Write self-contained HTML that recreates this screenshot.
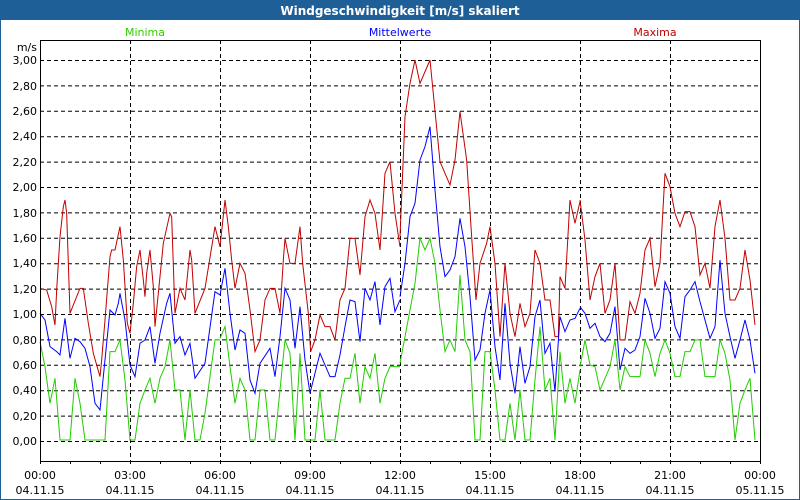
<!DOCTYPE html>
<html><head><meta charset="utf-8"><style>
body{margin:0;background:#fff;}
svg{display:block;font-family:"DejaVu Sans","Liberation Sans",sans-serif;}
</style></head><body>
<svg width="800" height="500" viewBox="0 0 800 500" xmlns="http://www.w3.org/2000/svg">
<rect x="0" y="0" width="800" height="500" fill="#fff"/>
<rect x="0.5" y="0.5" width="799" height="499" fill="none" stroke="#1f5f98"/>
<rect x="0" y="0" width="800" height="20" fill="#1f5f98"/>
<text x="400" y="15" text-anchor="middle" fill="#fff" font-size="12" font-weight="bold">Windgeschwindigkeit [m/s] skaliert</text>
<text x="145" y="36" text-anchor="middle" fill="#33cc00" font-size="11">Minima</text>
<text x="400" y="36" text-anchor="middle" fill="#0000ff" font-size="11">Mittelwerte</text>
<text x="655" y="36" text-anchor="middle" fill="#c00000" font-size="11">Maxima</text>
<text x="37" y="51" text-anchor="end" font-size="11">m/s</text>
<g stroke="#000" stroke-dasharray="4,3" stroke-width="1">
<path d="M40 60.5H760M40 85.9H760M40 111.3H760M40 136.7H760M40 162.1H760M40 187.5H760M40 212.9H760M40 238.3H760M40 263.7H760M40 289.1H760M40 314.5H760M40 339.9H760M40 365.3H760M40 390.7H760M40 416.1H760M40 441.5H760"/>
<path d="M130.5 40V461M220.5 40V461M310.5 40V461M400.5 40V461M490.5 40V461M580.5 40V461M670.5 40V461"/>
</g>
<g font-size="11" text-anchor="end">
<text x="37" y="64">3,00</text><text x="37" y="90">2,80</text><text x="37" y="115">2,60</text><text x="37" y="140">2,40</text><text x="37" y="166">2,20</text><text x="37" y="191">2,00</text><text x="37" y="217">1,80</text><text x="37" y="242">1,60</text><text x="37" y="267">1,40</text><text x="37" y="293">1,20</text><text x="37" y="318">1,00</text><text x="37" y="344">0,80</text><text x="37" y="369">0,60</text><text x="37" y="394">0,40</text><text x="37" y="420">0,20</text><text x="37" y="445">0,00</text>
</g>
<g fill="none" stroke-width="1">
<g stroke="#c00000">
<polyline vector-effect="non-scaling-stroke" transform="translate(40,160) scale(0.3333)" points="0,385 20,390 35,440 45,495 50,390 60,230 70,140 75,120 80,160 90,460 120,385 130,385 145,490 160,580 180,650 185,600 195,480 210,290 215,270 225,270 240,200 250,300 262,490 270,520 280,430 290,320 300,270 310,360 315,410 320,340 330,270 340,380 345,500 350,450 370,250 390,160 395,170 405,460 420,385 435,420 450,270 455,300 465,460 495,385 525,200 540,260"/>
<polyline vector-effect="non-scaling-stroke" transform="translate(220,160) scale(0.3333)" points="0,260 15,120 25,200 35,300 45,385 60,310 75,340 90,450 105,575 120,540 135,420 150,385 165,385 180,460 190,300 195,235 210,310 225,310 240,200 248,310 265,460 272,575 285,540 300,465 315,500 330,500 345,540 360,420 375,385 390,235 405,235 420,345 435,170 450,120 465,160 480,270 495,40 510,5 525,160 540,260"/>
<polyline vector-effect="non-scaling-stroke" transform="translate(400,50) scale(0.3333)" points="0,560 15,200 30,100 45,30 60,100 90,30 120,335 150,405 165,330 180,185 200,330 215,560 228,750 240,640 260,580 270,530 285,640 300,860 315,640 330,790 345,860 360,760 375,830 390,790 405,600 420,640 435,750 450,750 465,860 475,860 480,680 495,715 510,450 525,520 540,455"/>
<polyline vector-effect="non-scaling-stroke" transform="translate(580,160) scale(0.3333)" points="0,120 15,240 30,420 45,350 60,310 75,460 90,420 105,310 120,540 135,540 150,425 165,460 180,400 195,270 210,235 225,380 240,310 255,40 270,80 285,160 300,200 315,155 330,155 345,200 360,345 375,310 390,385 405,200 420,120 435,235 450,420 465,420 480,385 495,270 510,360 525,495"/>
</g>
<g stroke="#0000ff">
<polyline vector-effect="non-scaling-stroke" transform="translate(40,160) scale(0.3333)" points="0,460 15,480 30,560 50,575 60,585 75,475 90,595 105,535 120,545 135,565 150,620 165,730 180,750 195,600 210,450 225,465 235,430 240,400 255,480 270,615 285,650 300,550 315,540 330,500 345,610 360,520 380,430 390,400 405,550 420,530 435,585 450,550 465,655 495,610 525,395 540,405"/>
<polyline vector-effect="non-scaling-stroke" transform="translate(220,160) scale(0.3333)" points="0,405 15,325 30,460 45,570 60,510 75,520 90,660 105,700 120,610 150,565 165,650 180,530 195,385 210,420 225,565 240,440 255,600 270,700 300,580 315,615 330,650 345,650 360,585 375,500 390,420 405,425 420,545 435,385 450,420 465,365 480,495 495,380 510,355 525,455 540,420"/>
<polyline vector-effect="non-scaling-stroke" transform="translate(400,50) scale(0.3333)" points="0,740 15,640 30,500 45,460 60,330 75,290 90,230 105,420 120,590 135,680 150,660 165,620 180,505 195,590 210,740 225,930 240,900 255,790 270,720 285,890 300,990 315,760 330,940 345,1030 360,890 375,1000 390,950 405,800 420,750 435,910 450,880 465,1025 480,800 495,845 510,810 525,805 540,775"/>
<polyline vector-effect="non-scaling-stroke" transform="translate(580,160) scale(0.3333)" points="0,440 15,460 30,505 45,490 60,530 75,545 90,520 105,440 120,630 135,565 150,580 165,570 180,530 195,415 210,460 225,535 240,505 255,365 270,400 285,500 300,535 315,410 330,390 345,365 360,425 375,480 390,535 405,500 420,300 435,460 450,530 465,595 480,540 495,480 510,540 525,640"/>
</g>
<g stroke="#22cc00">
<polyline vector-effect="non-scaling-stroke" transform="translate(40,160) scale(0.3333)" points="0,545 15,620 30,730 45,655 60,840 90,840 105,655 120,730 135,840 195,840 210,575 225,575 240,540 255,660 270,840 285,840 300,730 315,690 330,655 345,730 360,655 375,620 390,540 405,690 420,690 435,840 450,690 465,840 480,840 495,760 525,540 540,540"/>
<polyline vector-effect="non-scaling-stroke" transform="translate(220,160) scale(0.3333)" points="0,535 15,500 30,620 45,730 60,655 75,690 90,840 105,840 120,690 135,690 150,840 165,840 180,690 195,540 210,580 225,840 240,580 255,840 270,840 285,840 300,690 315,840 345,840 360,730 375,655 390,655 405,580 420,730 435,620 450,655 465,580 480,730 495,655 510,620 540,620"/>
<polyline vector-effect="non-scaling-stroke" transform="translate(400,50) scale(0.3333)" points="0,940 15,860 30,780 45,700 60,565 75,600 90,565 105,640 120,780 135,905 150,870 165,905 180,675 195,870 210,905 225,1170 240,1170 255,905 270,905 285,1020 300,1170 315,1170 330,1060 345,1170 360,1020 375,1170 390,1170 405,990 420,830 435,1020 450,985 465,1170 480,905 495,1060 510,985 525,1060 540,960"/>
<polyline vector-effect="non-scaling-stroke" transform="translate(580,160) scale(0.3333)" points="0,620 15,540 30,615 45,620 60,690 75,655 90,620 105,540 120,690 135,620 150,650 180,650 195,540 210,580 225,650 240,580 255,540 270,580 285,650 300,650 315,575 330,575 345,540 360,540 375,650 405,650 420,540 435,580 450,660 465,840 480,730 495,690 510,655 525,840"/>
</g>
</g>
<g stroke="#000" fill="none">
<path d="M40.5 40V461.5H760.5V40"/>
<path d="M40.5 40.5H760.5"/>
<path d="M40.5 461v3M70.5 461v3M100.5 461v3M130.5 461v3M160.5 461v3M190.5 461v3M220.5 461v3M250.5 461v3M280.5 461v3M310.5 461v3M340.5 461v3M370.5 461v3M400.5 461v3M430.5 461v3M460.5 461v3M490.5 461v3M520.5 461v3M550.5 461v3M580.5 461v3M610.5 461v3M640.5 461v3M670.5 461v3M700.5 461v3M730.5 461v3M760.5 461v3"/>
</g>
<g font-size="11" text-anchor="middle">
<text x="40" y="479">00:00</text><text x="130" y="479">03:00</text><text x="220" y="479">06:00</text><text x="310" y="479">09:00</text><text x="400" y="479">12:00</text><text x="490" y="479">15:00</text><text x="580" y="479">18:00</text><text x="670" y="479">21:00</text><text x="760" y="479">00:00</text>
<text x="40" y="494">04.11.15</text><text x="130" y="494">04.11.15</text><text x="220" y="494">04.11.15</text><text x="310" y="494">04.11.15</text><text x="400" y="494">04.11.15</text><text x="490" y="494">04.11.15</text><text x="580" y="494">04.11.15</text><text x="670" y="494">04.11.15</text><text x="760" y="494">05.11.15</text>
</g>
</svg>
</body></html>
